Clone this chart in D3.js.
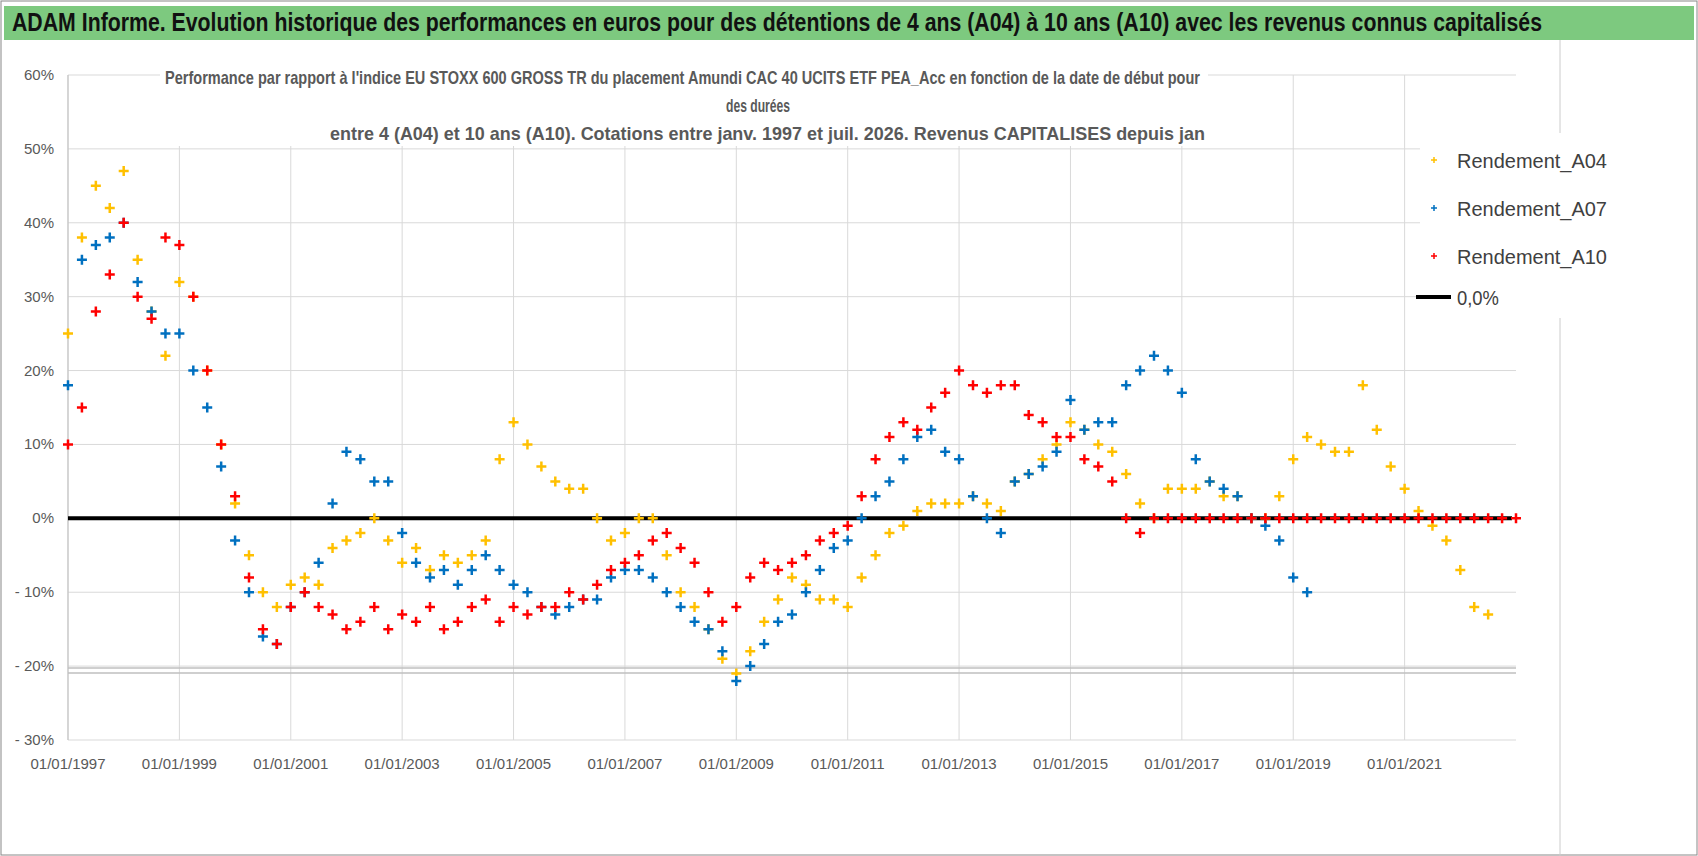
<!DOCTYPE html><html><head><meta charset="utf-8">
<script src="https://cdn.jsdelivr.net/npm/d3@7/dist/d3.min.js"></script>
<style>body{margin:0;background:#fff}text{font-family:"Liberation Sans",Arial,sans-serif}</style></head><body>
<svg id="c" width="1698" height="856"></svg>
<script>
const start=1997, step=0.25;
const a04=[25,38,45,42,47,35,28,22,32,30,20,10,2,-5,-10,-12,-9,-8,-9,-4,-3,-2,0,-3,-6,-4,-7,-5,-6,-5,-3,8,13,10,7,5,4,4,0,-3,-2,0,0,-5,-10,-12,-15,-19,-21,-18,-14,-11,-8,-9,-11,-11,-12,-8,-5,-2,-1,1,2,2,2,3,2,1,5,6,8,10,13,12,10,9,6,2,0,4,4,4,5,3,3,0,0,3,8,11,10,9,9,18,12,7,4,1,-1,-3,-7,-12,-13];
const a07=[18,35,37,38,40,32,28,25,25,20,15,7,-3,-10,-16,-17,-12,-10,-6,2,9,8,5,5,-2,-6,-8,-7,-9,-7,-5,-7,-9,-10,-12,-13,-12,-11,-11,-8,-7,-7,-8,-10,-12,-14,-15,-18,-22,-20,-17,-14,-13,-10,-7,-4,-3,0,3,5,8,11,12,9,8,3,0,-2,5,6,7,9,16,12,13,13,18,20,22,20,17,8,5,4,3,0,-1,-3,-8,-10];
const a10=[10,15,28,33,40,30,27,38,37,30,20,10,3,-8,-15,-17,-12,-10,-12,-13,-15,-14,-12,-15,-13,-14,-12,-15,-14,-12,-11,-14,-12,-13,-12,-12,-10,-11,-9,-7,-6,-5,-3,-2,-4,-6,-10,-14,-12,-8,-6,-7,-6,-5,-3,-2,-1,3,8,11,13,12,15,17,20,18,17,18,18,14,13,11,11,8,7,5,0,-2,0,0,0,0,0,0,0,0,0,0,0,0,0,0,0,0,0,0,0,0,0,0,0,0,0,0,0];
const yTicks=[60,50,40,30,20,10,0,-10,-20,-30];
const xTicks=[1997,1999,2001,2003,2005,2007,2009,2011,2013,2015,2017,2019,2021];
const series=[{name:"Rendement_A04",vals:a04,color:"#FFC000"},{name:"Rendement_A07",vals:a07,color:"#0070C0"},{name:"Rendement_A10",vals:a10,color:"#FF0000"}];

const svg=d3.select("#c");
const x=d3.scaleLinear().domain([1997,2023]).range([68,1516]);
const y=d3.scaleLinear().domain([-30,60]).range([740,75]);
const fit=(sel,w)=>sel.attr("textLength",w).attr("lengthAdjust","spacingAndGlyphs");
svg.append("rect").attr("x",1).attr("y",1).attr("width",1696).attr("height",854).attr("fill","none").attr("stroke","#888");
svg.append("rect").attr("x",4).attr("y",6).attr("width",1690).attr("height",34).attr("fill","#7DC97F");
fit(svg.append("text").attr("x",12).attr("y",31).attr("font-size",25).attr("font-weight","bold").attr("fill","#111")
 .text("ADAM Informe. Evolution historique des performances en euros pour des détentions de 4 ans (A04) à 10 ans (A10) avec les revenus connus capitalisés"),1530);
svg.append("line").attr("x1",1560).attr("x2",1560).attr("y1",40).attr("y2",856).attr("stroke","#ccc");
svg.append("g").selectAll("line").data(yTicks).join("line").attr("x1",68).attr("x2",1516).attr("y1",d=>y(d)).attr("y2",d=>y(d)).attr("stroke","#d9d9d9");
svg.append("g").selectAll("line").data(xTicks).join("line").attr("x1",d=>x(d)).attr("x2",d=>x(d)).attr("y1",75).attr("y2",740).attr("stroke","#d9d9d9");
svg.append("line").attr("x1",68).attr("x2",68).attr("y1",75).attr("y2",740).attr("stroke","#bfbfbf");
[668,673].forEach(v=>svg.append("line").attr("x1",68).attr("x2",1516).attr("y1",v).attr("y2",v).attr("stroke","#bfbfbf").attr("stroke-width",1.5));
svg.append("g").selectAll("text").data(yTicks).join("text").attr("x",54).attr("y",d=>y(d)+5).attr("text-anchor","end").attr("font-size",15).attr("fill","#595959")
 .text(d=>d<0?"- "+(-d)+"%":d+"%");
svg.append("g").selectAll("text").data(xTicks).join("text").attr("x",d=>x(d)).attr("y",769).attr("text-anchor","middle").attr("font-size",15).attr("fill","#595959").text(d=>"01/01/"+d);
svg.append("rect").attr("x",160).attr("y",62).attr("width",1048).attr("height",84).attr("fill","#fff");
[["Performance par rapport à l'indice EU STOXX 600 GROSS TR  du placement Amundi CAC 40 UCITS ETF PEA_Acc en fonction de la date de début pour",84,165,1035],["des durées",112,726,64],["entre 4 (A04) et 10 ans (A10). Cotations entre janv. 1997 et juil. 2026. Revenus CAPITALISES  depuis jan",140,330,875]]
 .forEach(([t,yy,xx,w])=>fit(svg.append("text").attr("x",xx).attr("y",yy).attr("font-size",19).attr("font-weight","bold").attr("fill","#595959").text(t),w));
svg.append("line").attr("x1",68).attr("x2",1512).attr("y1",y(0)).attr("y2",y(0)).attr("stroke","#000").attr("stroke-width",4);
const plus=(s)=>`M${-s},0H${s}M0,${-s}V${s}`;
series.forEach(s=>{
 svg.append("g").selectAll("path").data(s.vals).join("path")
  .attr("transform",(d,i)=>`translate(${x(start+i*step)},${y(d)})`).attr("d",plus(5)).attr("stroke",s.color).attr("stroke-width",2.5).attr("fill","none");
});
svg.append("rect").attr("x",1420).attr("y",133).attr("width",218).attr("height",185).attr("fill","#fff");
series.forEach((s,i)=>{
 const yy=160+i*48;
 svg.append("path").attr("transform",`translate(1434,${yy})`).attr("d",plus(3)).attr("stroke",s.color).attr("stroke-width",1.5);
 fit(svg.append("text").attr("x",1457).attr("y",yy+8).attr("font-size",21).attr("fill","#404040").text(s.name),150);
});
svg.append("line").attr("x1",1416).attr("x2",1451).attr("y1",297).attr("y2",297).attr("stroke","#000").attr("stroke-width",4);
fit(svg.append("text").attr("x",1457).attr("y",305).attr("font-size",21).attr("fill","#404040").text("0,0%"),42);
</script></body></html>
